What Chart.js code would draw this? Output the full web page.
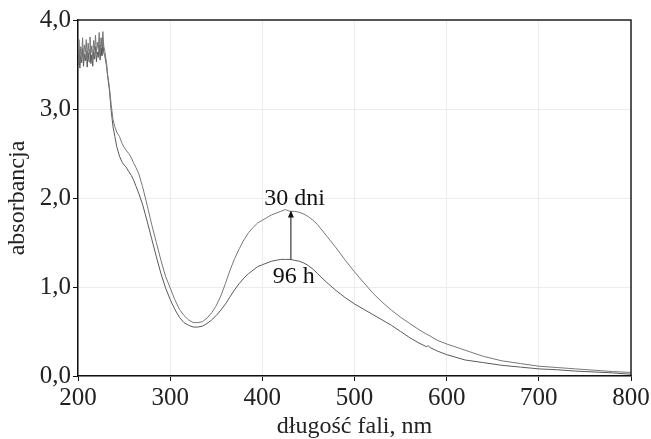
<!DOCTYPE html>
<html>
<head>
<meta charset="utf-8">
<script src="https://cdn.jsdelivr.net/npm/chart.js@4"></script>
<style>
  html, body { margin: 0; padding: 0; background: #fff; }
  #wrap { width: 651px; height: 439px; }
</style>
</head>
<body>
<div id="wrap"><canvas id="spectrum" width="651" height="439"></canvas></div>
<script>
// wavelength grid, nm (1 nm steps in the noisy UV part)
const wavelengths = [
  200, 201, 202, 203, 204, 205, 206, 207, 208, 209, 210, 211, 212, 213, 214, 215, 216,
  217, 218, 219, 220, 221, 222, 223, 224, 225, 226, 227, 228, 229, 230, 231, 232,
  234, 236, 238, 240, 242, 245, 248, 250, 252, 255, 258, 260, 263, 266, 270, 275,
  280, 285, 290, 295, 300, 305, 310, 315, 320, 325, 330, 335, 340, 345, 350, 355,
  360, 365, 370, 375, 380, 385, 390, 395, 400, 405, 410, 415, 420, 425, 430, 435,
  440, 445, 450, 455, 460, 470, 480, 490, 500, 510, 520, 530, 540, 550, 560, 570,
  578, 580, 582, 590, 600, 620, 640, 660, 680, 700, 720, 740, 760, 780, 800
];

// absorbance after 30 days
const abs30dni = [
  3.62, 3.78, 3.52, 3.70, 3.60, 3.80, 3.55, 3.72, 3.64, 3.78, 3.57, 3.74, 3.62, 3.81, 3.63, 3.71, 3.56,
  3.77, 3.66, 3.83, 3.62, 3.75, 3.68, 3.86, 3.64, 3.80, 3.70, 3.87, 3.70, 3.66, 3.58, 3.52, 3.40,
  3.25, 3.05, 2.88, 2.80, 2.74, 2.69, 2.61, 2.57, 2.54, 2.50, 2.45, 2.40, 2.34, 2.27, 2.13, 1.92,
  1.70, 1.50, 1.30, 1.12, 0.99, 0.86, 0.75, 0.68, 0.63, 0.60, 0.60, 0.61, 0.65, 0.71, 0.79, 0.90,
  1.04, 1.19, 1.32, 1.43, 1.53, 1.61, 1.67, 1.72, 1.75, 1.78, 1.81, 1.83, 1.85, 1.87, 1.85, 1.85,
  1.84, 1.82, 1.79, 1.75, 1.70, 1.57, 1.44, 1.30, 1.17, 1.05, 0.93, 0.83, 0.74, 0.66, 0.59, 0.52,
  0.47, 0.46, 0.45, 0.40, 0.36, 0.29, 0.22, 0.17, 0.14, 0.11, 0.095, 0.08, 0.065, 0.05, 0.04
];

// absorbance after 96 h
const abs96h = [
  3.50, 3.66, 3.46, 3.60, 3.52, 3.68, 3.48, 3.62, 3.54, 3.65, 3.47, 3.63, 3.53, 3.67, 3.51, 3.61, 3.48,
  3.66, 3.56, 3.70, 3.53, 3.64, 3.58, 3.72, 3.55, 3.69, 3.60, 3.74, 3.63, 3.60, 3.54, 3.48, 3.38,
  3.22, 2.98, 2.80, 2.69, 2.58, 2.47, 2.40, 2.37, 2.35, 2.30, 2.25, 2.21, 2.13, 2.05, 1.93, 1.74,
  1.54, 1.34, 1.15, 0.99, 0.86, 0.75, 0.66, 0.60, 0.57, 0.55, 0.55, 0.56, 0.59, 0.63, 0.68, 0.74,
  0.81, 0.89, 0.97, 1.04, 1.10, 1.15, 1.19, 1.23, 1.25, 1.27, 1.29, 1.30, 1.31, 1.31, 1.31, 1.30,
  1.29, 1.27, 1.24, 1.20, 1.15, 1.05, 0.96, 0.88, 0.81, 0.75, 0.69, 0.63, 0.57, 0.50, 0.43, 0.37,
  0.33, 0.34, 0.32, 0.28, 0.24, 0.18, 0.15, 0.12, 0.10, 0.08, 0.07, 0.055, 0.045, 0.035, 0.02
];

const xTicks = [200, 300, 400, 500, 600, 700, 800];
const yTicks = [0, 1, 2, 3, 4];
const seriesNames = ["30 dni", "96 h"];

const serif = "'Liberation Serif', 'DejaVu Serif', serif";
const toPoints = vals => wavelengths.map((w, i) => ({ x: w, y: vals[i] }));

// frame on top/right, arrow between peaks and the two labels
const annotate = {
  id: "annotate",
  afterDraw(chart) {
    const { ctx, chartArea: a, scales: { x, y } } = chart;
    ctx.save();
    ctx.strokeStyle = "#222";
    ctx.lineWidth = 1.5;
    ctx.beginPath();
    ctx.moveTo(a.left, a.top);
    ctx.lineTo(a.right, a.top);
    ctx.lineTo(a.right, a.bottom);
    ctx.stroke();

    const ax = x.getPixelForValue(431);
    const yLow = y.getPixelForValue(1.31);
    const yHigh = y.getPixelForValue(1.86);
    ctx.strokeStyle = "#111";
    ctx.lineWidth = 1;
    ctx.beginPath();
    ctx.moveTo(ax, yLow);
    ctx.lineTo(ax, yHigh + 6);
    ctx.stroke();
    ctx.fillStyle = "#111";
    ctx.beginPath();
    ctx.moveTo(ax, yHigh);
    ctx.lineTo(ax - 3, yHigh + 7);
    ctx.lineTo(ax + 3, yHigh + 7);
    ctx.closePath();
    ctx.fill();

    ctx.font = "24px " + serif;
    ctx.fillStyle = "#111";
    ctx.textAlign = "center";
    ctx.textBaseline = "middle";
    ctx.fillText(seriesNames[0], x.getPixelForValue(435), y.getPixelForValue(1.99));
    ctx.fillText(seriesNames[1], x.getPixelForValue(434), y.getPixelForValue(1.12));
    ctx.restore();
  }
};

new Chart(document.getElementById("spectrum"), {
  type: "line",
  data: {
    datasets: [
      { label: seriesNames[0], data: toPoints(abs30dni), borderColor: "#777", borderWidth: 1, pointRadius: 0, tension: 0 },
      { label: seriesNames[1], data: toPoints(abs96h), borderColor: "#5a5a5a", borderWidth: 1, pointRadius: 0, tension: 0 }
    ]
  },
  options: {
    responsive: false,
    animation: false,
    layout: { padding: { left: 0, top: 20, right: 20, bottom: 0 } },
    plugins: { legend: { display: false }, tooltip: { enabled: false } },
    scales: {
      x: {
        type: "linear",
        min: 200, max: 800,
        afterBuildTicks: s => { s.ticks = xTicks.map(v => ({ value: v })); },
        afterFit: s => { s.height = 63; s.paddingLeft = 0; s.paddingRight = 0; },
        grid: { color: "#ececec", tickColor: "#111", tickLength: 5 },
        border: { color: "#111", width: 1.5 },
        ticks: { color: "#222", padding: 2, font: { family: serif, size: 25 } },
        title: { display: true, text: "długość fali, nm", color: "#222", padding: { top: 0, bottom: 0 }, font: { family: serif, size: 24, lineHeight: 1 } }
      },
      y: {
        min: 0, max: 4,
        afterBuildTicks: s => { s.ticks = yTicks.map(v => ({ value: v })); },
        afterFit: s => { s.width = 78; },
        grid: { color: "#ececec", tickColor: "#111", tickLength: 5 },
        border: { color: "#111", width: 1.5 },
        ticks: { color: "#222", padding: 2, font: { family: serif, size: 25 }, callback: v => v.toFixed(1).replace(".", ",") },
        title: { display: true, text: "absorbancja", color: "#222", padding: { top: 6, bottom: 0 }, font: { family: serif, size: 24, lineHeight: 1 } }
      }
    }
  },
  plugins: [annotate]
});
</script>
</body>
</html>
